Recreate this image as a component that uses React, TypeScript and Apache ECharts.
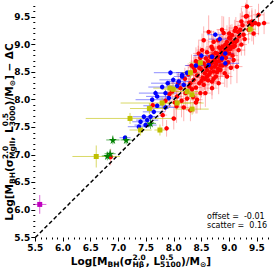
import React, { useEffect, useRef } from "react";
import * as echarts from "echarts";

const axisMin = 5.5;
const axisMax = 9.8;
const majorTicks = [5.5, 6.0, 6.5, 7.0, 7.5, 8.0, 8.5, 9.0, 9.5];
const minorTicks = [5.6, 5.7, 5.8, 5.9, 6.1, 6.2, 6.3, 6.4, 6.6, 6.7, 6.8, 6.9, 7.1, 7.2, 7.3, 7.4, 7.6, 7.7, 7.8, 7.9, 8.1, 8.2, 8.3, 8.4, 8.6, 8.7, 8.8, 8.9, 9.1, 9.2, 9.3, 9.4, 9.6, 9.7];
const oneToOne = [[5.5, 5.5], [9.8, 9.8]];

// [x, y, xerr, yerr]
const redPoints = [
  [6.86, 6.96, 0.05, 0.15], [7.62, 7.9, 0.06, 0.15], [7.8, 7.72, 0.08, 0.2], [7.87, 7.48, 0.05, 0.15],
  [7.85, 7.98, 0.1, 0.2], [7.92, 8.1, 0.08, 0.25], [7.97, 8.15, 0.1, 0.2], [8.0, 7.66, 0.05, 0.2],
  [8.02, 7.95, 0.1, 0.25], [8.05, 7.88, 0.15, 0.3], [8.06, 8.06, 0.1, 0.2], [8.08, 8.3, 0.12, 0.2],
  [8.12, 8.21, 0.12, 0.25], [8.14, 7.98, 0.08, 0.3], [8.18, 7.86, 0.1, 0.25], [8.2, 8.38, 0.1, 0.2],
  [8.21, 8.12, 0.1, 0.3], [8.24, 8.02, 0.1, 0.2], [8.26, 8.46, 0.1, 0.2], [8.28, 8.24, 0.12, 0.22],
  [8.3, 7.81, 0.08, 0.2], [8.3, 8.3, 0.1, 0.25], [8.32, 8.62, 0.1, 0.2], [8.33, 8.19, 0.1, 0.2],
  [8.35, 8.05, 0.1, 0.3], [8.36, 8.36, 0.1, 0.2], [8.38, 8.52, 0.1, 0.3], [8.4, 8.22, 0.1, 0.25],
  [8.4, 7.95, 0.1, 0.2], [8.42, 8.0, 0.1, 0.25], [8.42, 8.44, 0.1, 0.2], [8.44, 8.68, 0.08, 0.3],
  [8.45, 8.84, 0.1, 0.25], [8.46, 8.3, 0.1, 0.2], [8.48, 8.12, 0.12, 0.3], [8.5, 8.55, 0.1, 0.2],
  [8.51, 8.9, 0.1, 0.3], [8.52, 8.4, 0.1, 0.25], [8.54, 8.27, 0.1, 0.2], [8.54, 8.66, 0.1, 0.2],
  [8.54, 9.08, 0.08, 0.25], [8.56, 8.48, 0.15, 0.3], [8.57, 8.12, 0.1, 0.25], [8.58, 8.75, 0.1, 0.2],
  [8.6, 8.54, 0.1, 0.2], [8.6, 8.42, 0.1, 0.3], [8.62, 8.35, 0.1, 0.2], [8.63, 9.23, 0.1, 0.3],
  [8.64, 8.62, 0.12, 0.25], [8.66, 8.78, 0.1, 0.2], [8.66, 8.5, 0.1, 0.2], [8.68, 8.96, 0.1, 0.3],
  [8.69, 8.33, 0.1, 0.25], [8.69, 8.21, 0.1, 0.2], [8.7, 8.68, 0.1, 0.2], [8.72, 8.51, 0.1, 0.25],
  [8.72, 9.05, 0.1, 0.2], [8.74, 8.6, 0.1, 0.3], [8.75, 8.85, 0.12, 0.25], [8.76, 8.42, 0.1, 0.2],
  [8.78, 8.69, 0.1, 0.2], [8.78, 8.84, 0.1, 0.25], [8.8, 8.56, 0.1, 0.3], [8.81, 8.3, 0.1, 0.2],
  [8.82, 8.95, 0.1, 0.2], [8.84, 8.93, 0.1, 0.25], [8.84, 8.54, 0.12, 0.2], [8.86, 8.72, 0.1, 0.3],
  [8.87, 9.27, 0.1, 0.25], [8.88, 8.62, 0.1, 0.2], [8.9, 8.81, 0.1, 0.2], [8.9, 9.21, 0.1, 0.3],
  [8.92, 8.48, 0.1, 0.25], [8.93, 9.0, 0.12, 0.2], [8.94, 8.76, 0.1, 0.25], [8.96, 8.9, 0.1, 0.2],
  [8.96, 9.05, 0.1, 0.3], [8.96, 8.42, 0.1, 0.2], [8.98, 8.68, 0.1, 0.25], [9.0, 9.12, 0.1, 0.2],
  [9.0, 8.84, 0.1, 0.2], [9.02, 9.11, 0.1, 0.25], [9.03, 8.58, 0.12, 0.3], [9.04, 8.96, 0.1, 0.2],
  [9.05, 9.17, 0.1, 0.2], [9.06, 8.8, 0.1, 0.25], [9.08, 8.96, 0.1, 0.3], [9.08, 8.72, 0.1, 0.2],
  [9.1, 9.25, 0.1, 0.2], [9.12, 9.05, 0.1, 0.25], [9.14, 9.08, 0.1, 0.2], [9.14, 8.6, 0.1, 0.3],
  [9.16, 9.23, 0.1, 0.2], [9.17, 8.9, 0.12, 0.25], [9.18, 9.15, 0.1, 0.2], [9.2, 9.27, 0.1, 0.3],
  [9.22, 9.0, 0.1, 0.2], [9.24, 9.35, 0.1, 0.25], [9.26, 9.18, 0.1, 0.2], [9.28, 9.1, 0.1, 0.3],
  [9.3, 9.51, 0.08, 0.25], [9.32, 9.69, 0.1, 0.2], [9.32, 9.52, 0.1, 0.2], [9.35, 9.27, 0.1, 0.25],
  [9.36, 9.4, 0.1, 0.2], [9.41, 9.36, 0.1, 0.3], [9.41, 9.42, 0.1, 0.2], [9.44, 9.2, 0.1, 0.2],
  [9.47, 9.39, 0.1, 0.25], [9.53, 9.54, 0.1, 0.2], [9.53, 9.37, 0.1, 0.2], [9.63, 9.39, 0.1, 0.2],
  [8.58, 8.6, 0.1, 0.2], [8.62, 8.7, 0.1, 0.25], [8.66, 8.64, 0.1, 0.2], [8.7, 8.8, 0.1, 0.3],
  [8.74, 8.72, 0.1, 0.2], [8.76, 8.64, 0.1, 0.2], [8.8, 8.78, 0.1, 0.25], [8.82, 8.7, 0.1, 0.2],
  [8.86, 8.86, 0.1, 0.3], [8.88, 8.96, 0.1, 0.2], [8.92, 8.9, 0.1, 0.2], [8.94, 8.64, 0.1, 0.25],
  [8.98, 8.98, 0.1, 0.2], [9.02, 8.92, 0.1, 0.3], [9.06, 9.04, 0.1, 0.2], [9.1, 8.98, 0.1, 0.2],
  [8.46, 8.58, 0.1, 0.2], [8.5, 8.34, 0.1, 0.3], [8.56, 8.38, 0.1, 0.2], [8.64, 8.46, 0.1, 0.2],
  [8.68, 8.58, 0.1, 0.3], [8.72, 8.38, 0.1, 0.2], [8.78, 8.5, 0.1, 0.2], [8.84, 8.62, 0.1, 0.25],
  [8.88, 8.8, 0.1, 0.2], [8.36, 8.58, 0.1, 0.2], [8.4, 8.7, 0.1, 0.25], [8.48, 8.76, 0.1, 0.2],
  [8.6, 8.86, 0.1, 0.2], [8.7, 8.92, 0.1, 0.25], [8.8, 9.08, 0.1, 0.2], [9.0, 9.2, 0.1, 0.3],
  [9.12, 9.3, 0.1, 0.2], [9.22, 9.42, 0.1, 0.25],
];

const bluePoints = [
  [8.75, 9.18, 0.15, 0.05], [8.83, 9.1, 0.2, 0.08], [8.69, 8.78, 0.1, 0.05], [8.87, 8.75, 0.2, 0.05],
  [8.93, 8.66, 0.25, 0.05], [8.93, 8.84, 0.15, 0.05], [8.63, 8.63, 0.15, 0.05], [8.24, 8.49, 0.2, 0.05],
  [8.15, 8.42, 0.15, 0.05], [8.15, 8.45, 0.1, 0.05], [7.94, 8.49, 0.3, 0.05], [7.99, 8.36, 0.25, 0.05],
  [8.09, 8.33, 0.2, 0.05], [7.89, 8.3, 0.3, 0.05], [8.06, 8.25, 0.2, 0.05], [8.18, 8.27, 0.15, 0.05],
  [7.79, 8.23, 0.25, 0.05], [7.67, 8.12, 0.3, 0.05], [7.7, 8.06, 0.2, 0.05], [7.85, 8.12, 0.2, 0.05],
  [7.61, 8.0, 0.3, 0.05], [7.7, 7.89, 0.25, 0.05], [7.85, 7.86, 0.2, 0.05], [7.91, 8.03, 0.2, 0.05],
  [7.46, 7.69, 0.2, 0.05], [7.52, 7.63, 0.2, 0.05], [7.4, 7.6, 0.15, 0.05], [7.49, 7.54, 0.2, 0.05],
  [7.58, 7.69, 0.15, 0.05], [7.64, 7.78, 0.2, 0.05], [7.37, 7.51, 0.2, 0.05], [7.12, 7.31, 0.1, 0.05],
  [8.4, 8.62, 0.2, 0.05], [8.5, 8.8, 0.15, 0.05],
];

const yellowPoints = [
  [9.38, 9.28, 0.1, 0.1], [8.48, 8.67, 0.2, 0.1], [8.3, 8.49, 0.15, 0.1], [7.93, 8.21, 0.3, 0.1],
  [7.99, 8.19, 0.2, 0.1], [8.24, 8.15, 0.2, 0.1], [8.33, 8.09, 0.15, 0.1], [7.79, 7.94, 0.75, 0.1],
  [8.06, 7.94, 0.25, 0.1], [8.33, 7.83, 0.3, 0.1], [7.56, 7.84, 0.35, 0.1], [7.75, 7.45, 0.1, 0.1],
  [7.4, 7.45, 0.2, 0.1], [7.21, 7.66, 0.8, 0.1], [6.6, 6.97, 0.43, 0.2],
];

const greenPoints = [
  [6.9, 7.27, 0.12, 0.08], [6.85, 7.02, 0.1, 0.08], [6.8, 6.98, 0.1, 0.08], [7.14, 7.27, 0.1, 0.08],
  [7.58, 7.57, 0.1, 0.1],
];

const magentaPoints = [[5.58, 6.1, 0.12, 0.17]];

const offsetText = "offset =  -0.01";
const scatterText = "scatter =  0.16";

const xTitleSegs: any[] = [["Log[M", "n"], ["BH", "b"], ["(σ", "n"], [["2.0", "Hβ"], "s"], [", L", "n"], [["0.5", "5100"], "s"], [")/M", "n"], ["⊙", "b"], ["]", "n"]];
const yTitleSegs: any[] = [["Log[M", "n"], ["BH", "b"], ["(σ", "n"], [["2.0", "MgII"], "s"], [", L", "n"], [["0.5", "3000"], "s"], [")/M", "n"], ["⊙", "b"], ["] − ΔC", "n"]];

const FONT = '"DejaVu Sans"';
const STAR = "path://M50,0 L61,35 L98,35 L68,57 L79,91 L50,70 L21,91 L32,57 L2,35 L39,35 Z";

function buildTitle(segs: any[], base: number, small: number) {
  const ctx = document.createElement("canvas").getContext("2d")!;
  const w = (t: string, s: number) => {
    ctx.font = `bold ${s}px ${FONT}`;
    return ctx.measureText(t).width;
  };
  const subDy = base * 0.33;
  const supDy = -base * 0.38;
  const kids: any[] = [];
  const txt = (t: string, x: number, y: number, s: number) => ({
    type: "text",
    x,
    y,
    silent: true,
    style: { text: t, font: `bold ${s}px ${FONT}`, fill: "#000", align: "left", verticalAlign: "middle" },
  });
  let x = 0;
  for (const [t, k] of segs) {
    if (k === "n") {
      kids.push(txt(t, x, 0, base));
      x += w(t, base);
    } else if (k === "b") {
      kids.push(txt(t, x, subDy, small));
      x += w(t, small);
    } else {
      kids.push(txt(t[0], x, supDy, small));
      kids.push(txt(t[1], x, subDy, small));
      x += Math.max(w(t[0], small), w(t[1], small));
    }
  }
  kids.forEach((k) => (k.x -= x / 2));
  return kids;
}

function errSeries(points: number[][], color: string, width: number) {
  return {
    type: "custom",
    silent: true,
    data: points.map((p) => [p[0], p[1], p[2], p[3]]),
    encode: { x: 0, y: 1 },
    renderItem: (_params: any, api: any) => {
      const x = api.value(0), y = api.value(1), xe = api.value(2), ye = api.value(3);
      const l = api.coord([x - xe, y]);
      const r = api.coord([x + xe, y]);
      const t = api.coord([x, y + ye]);
      const b = api.coord([x, y - ye]);
      return {
        type: "group",
        children: [
          { type: "line", shape: { x1: l[0], y1: l[1], x2: r[0], y2: r[1] }, style: { stroke: color, lineWidth: width } },
          { type: "line", shape: { x1: t[0], y1: t[1], x2: b[0], y2: b[1] }, style: { stroke: color, lineWidth: width } },
        ],
      };
    },
  };
}

function ptSeries(points: number[][], color: string, symbol: string, size: number) {
  return {
    type: "scatter",
    silent: true,
    symbol,
    symbolSize: size,
    itemStyle: { color, opacity: 1 },
    data: points.map((p) => [p[0], p[1]]),
  };
}

function makeAxis(kind: "x" | "y") {
  const base: any = {
    type: "value",
    min: axisMin,
    max: axisMax,
    position: kind === "x" ? "bottom" : "left",
    axisLine: { show: false },
    splitLine: { show: false },
  };
  return [
    {
      ...base,
      axisTick: { show: true, customValues: majorTicks, length: 4, lineStyle: { color: "#000", width: 1 } },
      axisLabel: {
        show: true,
        customValues: majorTicks,
        formatter: (v: number) => v.toFixed(1),
        fontFamily: FONT,
        fontWeight: "bold",
        fontSize: 9,
        color: "#000",
        margin: kind === "x" ? 6 : 5,
      },
    },
    {
      ...base,
      axisTick: { show: true, customValues: minorTicks, length: 2, lineStyle: { color: "#000", width: 1 } },
      axisLabel: { show: false },
    },
  ];
}

export default function App() {
  const ref = useRef<HTMLDivElement>(null);
  useEffect(() => {
    const chart = echarts.init(ref.current!, null, { renderer: "svg" });
    const option: any = {
      animation: false,
      backgroundColor: "#fff",
      grid: { left: 35.3, right: 0.5, top: 0.5, bottom: 30.5 },
      xAxis: makeAxis("x"),
      yAxis: makeAxis("y"),
      graphic: [
        { type: "group", x: 141, y: 261, children: buildTitle(xTitleSegs, 10.5, 7.5) },
        { type: "group", x: 9, y: 132, rotation: Math.PI / 2, children: buildTitle(yTitleSegs, 10.5, 7.5) },
        { type: "text", x: 207, y: 216, silent: true, style: { text: offsetText, font: `8px ${FONT}`, fill: "#000", verticalAlign: "middle" } },
        { type: "text", x: 207, y: 225, silent: true, style: { text: scatterText, font: `8px ${FONT}`, fill: "#000", verticalAlign: "middle" } },
      ],
      series: [
        errSeries(redPoints, "rgba(255,0,0,0.3)", 1),
        ptSeries(redPoints, "#ff0000", "circle", 4.5),
        errSeries(bluePoints, "rgba(0,0,255,0.45)", 1),
        ptSeries(bluePoints, "#0000ff", "circle", 4.5),
        errSeries(yellowPoints, "rgba(191,191,0,0.6)", 1),
        ptSeries(yellowPoints, "#bfbf00", "rect", 5),
        errSeries(greenPoints, "rgba(0,128,0,0.6)", 1),
        ptSeries(greenPoints, "#008000", STAR, 8),
        errSeries(magentaPoints, "rgba(191,0,191,0.6)", 1),
        ptSeries(magentaPoints, "#bf00bf", "rect", 5),
        {
          type: "line",
          silent: true,
          data: oneToOne,
          symbol: "none",
          lineStyle: { color: "#000", width: 1.5, type: [4, 2.5] },
          z: 5,
        },
      ],
    };
    chart.setOption(option);
    return () => chart.dispose();
  }, []);
  return <div ref={ref} style={{ position: "fixed", left: 0, top: 0, width: 274, height: 268 }} />;
}
